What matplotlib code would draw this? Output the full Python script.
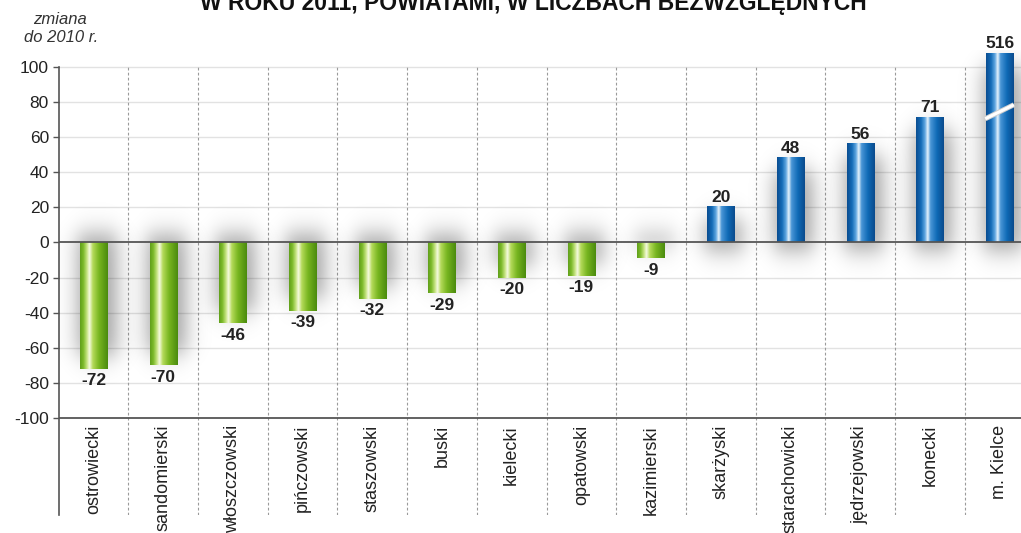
import matplotlib.pyplot as plt
import numpy as np
from matplotlib.colors import LinearSegmentedColormap

plt.rcParams['font.family'] = ['Liberation Sans', 'DejaVu Sans']
plt.rcParams['axes.unicode_minus'] = False

# zmiana liczby ludności do 2010 r.
powiaty = ["ostrowiecki", "sandomierski", "włoszczowski", "pińczowski", "staszowski",
           "buski", "kielecki", "opatowski", "kazimierski", "skarżyski",
           "starachowicki", "jędrzejowski", "konecki", "m. Kielce"]
zmiana = [-72, -70, -46, -39, -32, -29, -20, -19, -9, 20, 48, 56, 71, 516]
y_ticks = [-100, -80, -60, -40, -20, 0, 20, 40, 60, 80, 100]

title = "W ROKU 2011, POWIATAMI, W LICZBACH BEZWZGLĘDNYCH"

Y_CAP = 107.4   # wysokość ściętego słupka (m. Kielce)
YMIN, YMAX = -155.3, 109.7

green = LinearSegmentedColormap.from_list("g", [
    (0.0, "#5f9e1a"), (0.12, "#7cba2a"), (0.25, "#c6e482"), (0.34, "#f6fbe2"),
    (0.46, "#b4da5a"), (0.68, "#78b620"), (1.0, "#4a8a0e")])
blue = LinearSegmentedColormap.from_list("b", [
    (0.0, "#0a4c90"), (0.18, "#146cb8"), (0.32, "#5fa6e0"), (0.42, "#e8f4fd"),
    (0.52, "#4a96d6"), (0.75, "#0f6ab6"), (1.0, "#0a4a8c")])


def smooth(d, s):
    return 0.5 * (1 + np.tanh(d / s))


fig = plt.figure(figsize=(10.21, 5.33), dpi=100)
ax = fig.add_axes([58.6 / 1021, 18 / 533, 975.8 / 1021, 465 / 533])

x = np.arange(len(zmiana))
shown = [min(v, Y_CAP) for v in zmiana]
bars = ax.bar(x, shown, width=0.39, color="none", edgecolor="none", zorder=3)

grad = np.linspace(0, 1, 256).reshape(1, -1)
for b, v in zip(bars, zmiana):
    x0 = b.get_x()
    w = b.get_width()
    y0 = b.get_y()
    h = b.get_height()
    lo, hi = min(y0, y0 + h), max(y0, y0 + h)
    # rozmyty cien
    if v < 0:
        s_lo, s_hi = lo + 7, hi + 5
    else:
        s_lo, s_hi = lo - 5, hi - 7
    ex = (x0 - 0.6, x0 + w + 0.7, s_lo - 30, s_hi + 30)
    gx = np.linspace(ex[0], ex[1], 200)
    gy = np.linspace(ex[2], ex[3], 240)
    X, Y = np.meshgrid(gx, gy)
    sx0, sx1 = x0 - 0.04, x0 + w + 0.13
    a = (smooth(X - sx0, 0.17) - smooth(X - sx1, 0.17)) * \
        (smooth(Y - s_lo, 8.0) - smooth(Y - s_hi, 8.0))
    img = np.zeros(X.shape + (4,))
    img[..., 3] = np.clip(a, 0, 1) * 0.36
    ax.imshow(img, aspect="auto", extent=ex, origin="lower", zorder=1,
              interpolation="bilinear")

    cmap = green if v < 0 else blue
    ax.imshow(grad, cmap=cmap, aspect="auto", interpolation="bilinear",
              extent=(x0, x0 + w, y0, y0 + h), origin="lower", zorder=3)
    if v < 0:
        ax.text(x0 + w / 2, y0 + h - 2.5, str(v), ha="center", va="top",
                fontsize=12.5, fontweight="bold", color="#222222", zorder=5)
    else:
        ax.text(x0 + w / 2, y0 + h + 1.5, str(v), ha="center", va="bottom",
                fontsize=12.5, fontweight="bold", color="#222222", zorder=5)
    if v > Y_CAP:
        # przerwanie słupka
        ax.plot([x0 - 0.01, x0 + w + 0.01], [70.5, 78.5], color="#d0d0d0", lw=3.6,
                zorder=4, solid_capstyle="butt")
        ax.plot([x0 - 0.01, x0 + w + 0.01], [70.5, 78.5], color="white", lw=2.2,
                zorder=4, solid_capstyle="butt")

# siatka
for t in y_ticks:
    if t in (0, -100):
        ax.axhline(t, color="#555555", lw=1.3, zorder=4)
    else:
        ax.axhline(t, color="#e2e2e2", lw=1.0, zorder=0)
for s in np.arange(0.5, len(zmiana) - 0.5, 1):
    ax.plot([s, s], [YMIN, 100], color="#9a9a9a", lw=0.8, ls=(0, (2.5, 2)), zorder=0)

for i, name in enumerate(powiaty):
    ax.text(i, -104, name, rotation=90, ha="center", va="top", fontsize=13,
            color="#222222", zorder=5, clip_on=False)

ax.set_xlim(-0.5, len(zmiana) - 0.5)
ax.set_ylim(YMIN, YMAX)
ax.set_yticks(y_ticks)
ax.set_xticks([])
ax.tick_params(axis="y", direction="out", length=4, width=1, color="#555555",
               labelsize=12.5, labelcolor="#222222", pad=3)
for side in ("top", "right", "bottom"):
    ax.spines[side].set_visible(False)
ax.spines["left"].set_color("#555555")
ax.spines["left"].set_linewidth(1.2)
ax.spines["left"].set_bounds(YMIN, 100)

fig.text(60 / 1021, 1 - 19 / 533, "zmiana", ha="center", va="center",
         fontsize=12, style="italic", color="#333333")
fig.text(61 / 1021, 1 - 38 / 533, "do 2010 r.", ha="center", va="center",
         fontsize=12, style="italic", color="#333333")
fig.text(533 / 1021, 1 - 10 / 533, title, ha="center", va="baseline",
         fontsize=16.5, fontweight="bold", color="#111111")

fig.savefig("out.png", dpi=100)
